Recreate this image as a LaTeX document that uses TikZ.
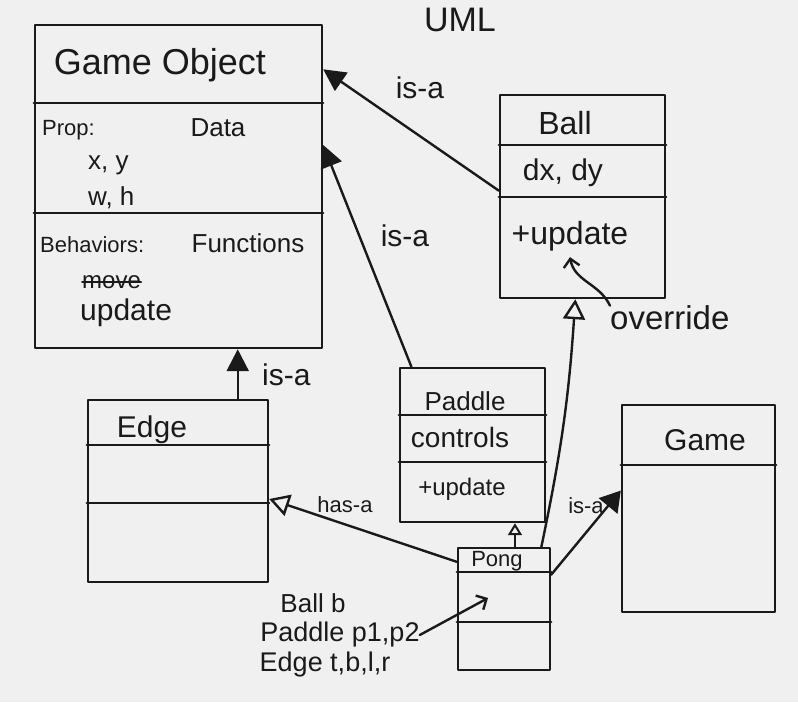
\documentclass[tikz,border=0pt]{standalone}
\usepackage{fontspec}
\setmainfont{Liberation Sans}
\usetikzlibrary{arrows.meta}
\definecolor{bgc}{HTML}{F0F0F0}
\definecolor{ink}{HTML}{1A1A1A}
\tikzset{
  ln/.style={draw=ink, line width=2.4pt, line cap=round, line join=round},
  cls/.style={ln, rectangle, inner sep=0pt},
  txt/.style={text=ink, inner sep=0pt},
  isa/.style={ln, -{Triangle[length=22pt,width=22pt]}},
  inh/.style={ln, -{Triangle[open,length=20pt,width=22pt,line width=2.4pt]}},
  inhs/.style={ln, -{Triangle[open,length=12pt,width=14pt,line width=2pt]}},
  blob/.style={ln, -{Triangle[length=20pt,width=24pt]}},
  barb/.style={ln, -{Straight Barb[length=8pt,width=16pt]}},
}
\newcommand{\fs}[1]{\fontsize{#1}{#1}\selectfont}
\begin{document}
\begin{tikzpicture}[x=1pt,y=-1pt]
\fill[bgc] (0,0) rectangle (798,702);
\useasboundingbox (0,0) rectangle (798,702);

% class boxes
\node[cls, minimum width=287pt, minimum height=323pt] (go) at (178.5,186.5) {};
\node[cls, minimum width=165pt, minimum height=203pt] (ball) at (582.5,196.5) {};
\node[cls, minimum width=180pt, minimum height=182pt] (edge) at (178,491) {};
\node[cls, minimum width=145pt, minimum height=154pt] (paddle) at (472.5,445) {};
\node[cls, minimum width=92pt, minimum height=122pt] (pong) at (504,609) {};
\node[cls, minimum width=153pt, minimum height=207pt] (game) at (698.5,508.5) {};

% dividers
\draw[ln] (go.west |- 0,103) -- (go.east |- 0,103);
\draw[ln] (go.west |- 0,213) -- (go.east |- 0,213);
\draw[ln] (ball.west |- 0,145) -- (ball.east |- 0,145);
\draw[ln] (ball.west |- 0,197) -- (ball.east |- 0,197);
\draw[ln] (edge.west |- 0,445) -- (edge.east |- 0,445);
\draw[ln] (edge.west |- 0,503) -- (edge.east |- 0,503);
\draw[ln] (paddle.west |- 0,415) -- (paddle.east |- 0,415);
\draw[ln] (paddle.west |- 0,462) -- (paddle.east |- 0,462);
\draw[ln] (pong.west |- 0,572) -- (pong.east |- 0,572);
\draw[ln] (pong.west |- 0,622) -- (pong.east |- 0,622);
\draw[ln] (game.west |- 0,465) -- (game.east |- 0,465);

% texts
\node[txt, font=\fs{34}] (uml) at (460,20) {UML};
\node[txt, font=\fs{36}] (goT) at (160,65) {Game Object};
\node[txt, font=\fs{22}, anchor=west] (prop) at (42,130) {Prop:};
\node[txt, font=\fs{26}] (data) at (218,128) {Data};
\node[txt, font=\fs{26}, anchor=west] (xy) at (88,165) {x, y};
\node[txt, font=\fs{26}, anchor=west] (wh) at (88,198) {w, h};
\node[txt, font=\fs{22}, anchor=west] (beh) at (40,245) {Behaviors:};
\node[txt, font=\fs{26}] (fun) at (248,243) {Functions};
\node[txt, font=\fs{24}, anchor=west] (mv) at (82,282) {move};
\draw[ln, line width=1.8pt] (mv.west) -- (mv.east);
\node[txt, font=\fs{30}, anchor=west] (upd) at (80,313) {update};

\node[txt, font=\fs{32}] (ballT) at (565,123) {Ball};
\node[txt, font=\fs{30}] (dxdy) at (563,173) {dx, dy};
\node[txt, font=\fs{32}] (bupd) at (570,236) {+update};
\node[txt, font=\fs{33}, anchor=west] (ov) at (610,318) {override};

\node[txt, font=\fs{30}] (edgeT) at (152,430) {Edge};
\node[txt, font=\fs{26}] (padT) at (465,401) {Paddle};
\node[txt, font=\fs{28}] (ctl) at (460,437) {controls};
\node[txt, font=\fs{24}] (pupd) at (462,489) {+update};
\node[txt, font=\fs{22}] (pongT) at (497,561) {Pong};
\node[txt, font=\fs{30}] (gameT) at (705,440) {Game};

\node[txt, font=\fs{30}] (l1) at (420,88) {is-a};
\node[txt, font=\fs{30}] (l2) at (405,236) {is-a};
\node[txt, font=\fs{30}, anchor=west] (l3) at (262,375) {is-a};
\node[txt, font=\fs{22}] (l4) at (345,505) {has-a};
\node[txt, font=\fs{22}] (l5) at (586,506) {is-a};

\node[txt, font=\fs{26}] (bb) at (313,603) {Ball b};
\node[txt, font=\fs{27}] (pp) at (340,635) {Paddle p1,p2};
\node[txt, font=\fs{27}] (et) at (325,665) {Edge t,b,l,r};
\coordinate (pin) at (488,598);

% connectors
\draw[isa] (ball.176) -- (go.39);
\draw[isa] (paddle.128) -- (go.16);
\draw[isa] (edge.north -| go.-70) -- (go.-70);
\draw[inhs] (pong.80) -- (paddle.south -| pong.80);
\draw[inh] (pong.59) to[bend right=4] (ball.-94);
\draw[inh] (pong.135) -- (edge.-5);
\draw[blob] (pong.36) -- (game.167);
\draw[barb] (ov.north west) to[out=115,in=-80] ([yshift=-6pt]bupd.south);
\draw[barb] (pp.east) -- (pin);
\end{tikzpicture}
\end{document}
